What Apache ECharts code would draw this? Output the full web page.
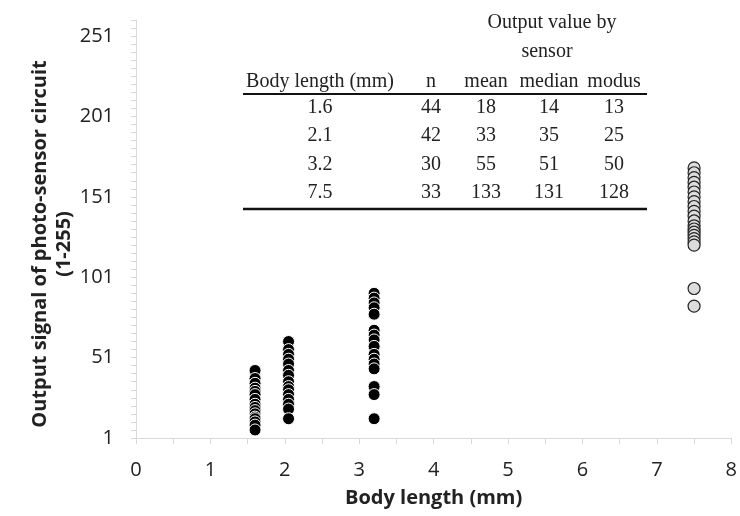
<!DOCTYPE html>
<html>
<head>
<meta charset="utf-8">
<script src="https://cdn.jsdelivr.net/npm/echarts@6/dist/echarts.min.js"></script>
<style>
  html, body { margin: 0; padding: 0; background: #fff; }
  #chart { width: 740px; height: 516px; }
</style>
</head>
<body>
<div id="chart"></div>
<script>
// body length groups and the sensor readings
const group1x = 1.6;
const group1 = [43, 38, 35, 32, 30, 28, 25, 22, 20, 18, 16, 14, 13, 11, 9, 6];
const group2x = 2.05;
const group2 = [61, 56, 53, 50, 47, 43, 40, 36, 33, 31, 28, 25, 22, 19, 13];
const group3x = 3.2;
const group3 = [91, 88, 85, 82, 78, 68, 65, 62, 58, 53, 50, 47, 44, 33, 28, 13];
const group4x = 7.5;
const group4 = [169, 166, 163, 160, 157, 154, 151, 148, 145, 142, 139, 136, 133, 131, 129, 127, 125, 123, 121, 94, 83];

const yLabels = [1, 51, 101, 151, 201, 251];
const yTicks = [];
for (let v = 1; v <= 261; v += 5) yTicks.push(v);
const xTicks = [];
for (let v = 0; v <= 8; v += 0.5) xTicks.push(v);

// inset table
const tableHead = ['Body length (mm)', 'n', 'mean', 'median', 'modus'];
const tableRows = [
  ['1.6', '44', '18', '14', '13'],
  ['2.1', '42', '33', '35', '25'],
  ['3.2', '30', '55', '51', '50'],
  ['7.5', '33', '133', '131', '128']
];

const toPts = (x, arr) => arr.map(v => [x, v]);

const chart = echarts.init(document.getElementById('chart'));

const serif = 'Liberation Serif';
const txtColor = '#222';
const font = '20px ' + serif;
const colX = [320, 431, 486, 549, 614];
const rowY = [108, 136, 165, 193];
const txt = (s, x, y) => ({ type: 'text', x: x, y: y, style: { text: s, font: font, fill: txtColor, align: 'center', verticalAlign: 'middle' } });
const tableGraphics = [txt('Output value by', 552, 23), txt('sensor', 547, 52)];
tableHead.forEach((h, i) => tableGraphics.push(txt(h, colX[i], 82)));
tableRows.forEach((r, j) => {
  r.forEach((c, i) => tableGraphics.push(txt(c, colX[i], rowY[j])));
});
tableGraphics.push({ type: 'line', shape: { x1: 243, y1: 94, x2: 647, y2: 94 }, style: { stroke: '#111', lineWidth: 2 } });
tableGraphics.push({ type: 'line', shape: { x1: 243, y1: 209, x2: 647, y2: 209 }, style: { stroke: '#111', lineWidth: 2.5 } });

const filled = {
  type: 'scatter',
  symbol: 'circle',
  symbolSize: 12,
  itemStyle: { color: '#000', borderColor: '#fff', borderWidth: 1, opacity: 1 },
  emphasis: { disabled: true }
};

chart.setOption({
  animation: false,
  backgroundColor: '#fff',
  grid: { left: 136, right: 5, top: 20, bottom: 78 },
  xAxis: {
    type: 'value',
    min: 0,
    max: 8,
    interval: 1,
    name: 'Body length (mm)',
    nameLocation: 'middle',
    nameGap: 50,
    nameTextStyle: { fontFamily: 'Open Sans', fontSize: 20, fontWeight: 'bold', color: '#222' },
    axisLine: { show: true, lineStyle: { color: '#d9d9d9', width: 1 } },
    axisTick: { show: true, customValues: xTicks, length: 6, lineStyle: { color: '#d9d9d9' } },
    axisLabel: { fontFamily: 'Open Sans', fontSize: 20, color: '#222', margin: 22 },
    splitLine: { show: false }
  },
  yAxis: {
    type: 'value',
    min: 1,
    max: 261,
    name: 'Output signal of photo-sensor circuit\n(1-255)',
    nameLocation: 'middle',
    nameGap: 60,
    nameMoveOverlap: false,
    nameTextStyle: { fontFamily: 'Open Sans', fontSize: 20, fontWeight: 'bold', color: '#222', lineHeight: 24, padding: [0, 30, 0, 0] },
    axisLine: { show: true, lineStyle: { color: '#d9d9d9', width: 1 } },
    axisTick: { show: true, customValues: yTicks, length: 5, lineStyle: { color: '#d9d9d9' } },
    axisLabel: { customValues: yLabels, fontFamily: 'Open Sans', fontSize: 20, color: '#222', margin: 22 },
    splitLine: { show: false }
  },
  graphic: tableGraphics,
  series: [
    Object.assign({}, filled, { data: toPts(group1x, group1) }),
    Object.assign({}, filled, { data: toPts(group2x, group2) }),
    Object.assign({}, filled, { data: toPts(group3x, group3) }),
    {
      type: 'scatter',
      symbol: 'circle',
      symbolSize: 12,
      itemStyle: { color: '#dcdcdc', borderColor: '#222', borderWidth: 1.2, opacity: 1 },
      emphasis: { disabled: true },
      data: toPts(group4x, group4)
    }
  ]
});
</script>
</body>
</html>
